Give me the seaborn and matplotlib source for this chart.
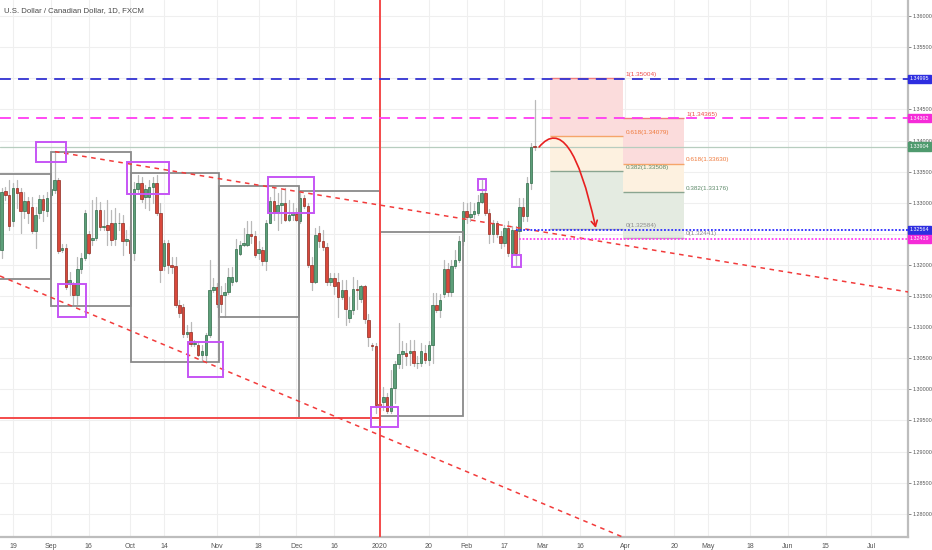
import numpy as np
import pandas as pd
import matplotlib
matplotlib.use("Agg")
import matplotlib.pyplot as plt
import matplotlib.transforms as mtransforms
from matplotlib.patches import Rectangle, FancyArrowPatch
from matplotlib.path import Path
import seaborn as sns

# ---------------- data ----------------
origin_date = "2019-08-19"      # bar position 0
first_bar = "2019-08-14"

opens = [1.3224, 1.3319, 1.3313, 1.3270, 1.3323, 1.3318, 1.3286, 1.3303, 1.3293, 1.3254,
         1.3283, 1.3306, 1.3287, 1.3313, 1.3321, 1.3336, 1.3224, 1.3228, 1.3169, 1.3169,
         1.3152, 1.3193, 1.3211, 1.3250, 1.3240, 1.3243, 1.3288, 1.3261, 1.3264, 1.3267,
         1.3241, 1.3267, 1.3268, 1.3238, 1.3240, 1.3220, 1.3322, 1.3332, 1.3310, 1.3309,
         1.3325, 1.3331, 1.3284, 1.3198, 1.3235, 1.3200, 1.3198, 1.3136, 1.3133, 1.3089,
         1.3093, 1.3073, 1.3071, 1.3055, 1.3055, 1.3087, 1.3160, 1.3164, 1.3152, 1.3151,
         1.3157, 1.3173, 1.3175, 1.3218, 1.3232, 1.3232, 1.3250, 1.3247, 1.3219, 1.3224,
         1.3207, 1.3268, 1.3303, 1.3284, 1.3296, 1.3299, 1.3272, 1.3280, 1.3282, 1.3270,
         1.3307, 1.3295, 1.3200, 1.3173, 1.3251, 1.3239, 1.3229, 1.3173, 1.3179, 1.3172,
         1.3149, 1.3160, 1.3114, 1.3127, 1.3162, 1.3146, 1.3166, 1.3112, 1.3071, 1.3069,
         1.2977, 1.2980, 1.2987, 1.2966, 1.3003, 1.3041, 1.3057, 1.3058, 1.3058, 1.3062,
         1.3042, 1.3042, 1.3059, 1.3048, 1.3071, 1.3136, 1.3128, 1.3153, 1.3194, 1.3156,
         1.3199, 1.3208, 1.3238, 1.3286, 1.3277, 1.3282, 1.3284, 1.3302, 1.3316, 1.3284,
         1.3250, 1.3267, 1.3246, 1.3235, 1.3259, 1.3220, 1.3256, 1.3254, 1.3293, 1.3278,
         1.3331, 1.3392]
highs = [1.3323, 1.3325, 1.3337, 1.3331, 1.3337, 1.3323, 1.3318, 1.3310, 1.3310, 1.3294,
         1.3313, 1.3313, 1.3318, 1.3337, 1.3382, 1.3340, 1.3234, 1.3234, 1.3188, 1.3173,
         1.3213, 1.3219, 1.3288, 1.3255, 1.3304, 1.3310, 1.3302, 1.3288, 1.3304, 1.3288,
         1.3291, 1.3283, 1.3280, 1.3256, 1.3262, 1.3334, 1.3345, 1.3342, 1.3329, 1.3337,
         1.3342, 1.3345, 1.3299, 1.3240, 1.3240, 1.3213, 1.3213, 1.3144, 1.3138, 1.3104,
         1.3109, 1.3080, 1.3077, 1.3071, 1.3090, 1.3208, 1.3179, 1.3171, 1.3166, 1.3171,
         1.3195, 1.3196, 1.3241, 1.3238, 1.3259, 1.3270, 1.3270, 1.3254, 1.3238, 1.3229,
         1.3272, 1.3310, 1.3326, 1.3315, 1.3321, 1.3323, 1.3304, 1.3299, 1.3291, 1.3315,
         1.3313, 1.3299, 1.3213, 1.3259, 1.3262, 1.3256, 1.3235, 1.3187, 1.3187, 1.3187,
         1.3176, 1.3176, 1.3149, 1.3181, 1.3176, 1.3168, 1.3168, 1.3122, 1.3074, 1.3074,
         1.2984, 1.3004, 1.2994, 1.3031, 1.3045, 1.3106, 1.3077, 1.3074, 1.3079, 1.3079,
         1.3054, 1.3074, 1.3071, 1.3077, 1.3155, 1.3155, 1.3153, 1.3208, 1.3203, 1.3208,
         1.3224, 1.3246, 1.3302, 1.3299, 1.3302, 1.3299, 1.3313, 1.3337, 1.3323, 1.3290,
         1.3272, 1.3270, 1.3254, 1.3265, 1.3270, 1.3262, 1.3262, 1.3307, 1.3307, 1.3342,
         1.3396, 1.3465]
lows = [1.3211, 1.3305, 1.3256, 1.3262, 1.3292, 1.3251, 1.3275, 1.3268, 1.3251, 1.3227,
        1.3275, 1.3270, 1.3278, 1.3310, 1.3315, 1.3220, 1.3221, 1.3162, 1.3152, 1.3136,
        1.3138, 1.3187, 1.3208, 1.3218, 1.3232, 1.3240, 1.3256, 1.3256, 1.3232, 1.3232,
        1.3232, 1.3256, 1.3216, 1.3232, 1.3216, 1.3208, 1.3315, 1.3302, 1.3291, 1.3288,
        1.3299, 1.3280, 1.3172, 1.3192, 1.3187, 1.3187, 1.3133, 1.3117, 1.3085, 1.3085,
        1.3069, 1.3069, 1.3053, 1.3047, 1.3045, 1.3085, 1.3157, 1.3133, 1.3125, 1.3117,
        1.3154, 1.3168, 1.3172, 1.3216, 1.3230, 1.3230, 1.3235, 1.3213, 1.3210, 1.3200,
        1.3192, 1.3267, 1.3272, 1.3256, 1.3267, 1.3270, 1.3270, 1.3272, 1.3270, 1.3267,
        1.3291, 1.3197, 1.3160, 1.3171, 1.3229, 1.3224, 1.3168, 1.3168, 1.3154, 1.3117,
        1.3146, 1.3104, 1.3109, 1.3122, 1.3130, 1.3140, 1.3106, 1.3069, 1.3063, 1.2962,
        1.2966, 1.2967, 1.2962, 1.2962, 1.2978, 1.3034, 1.3034, 1.3039, 1.3040, 1.3037,
        1.3034, 1.3037, 1.3043, 1.3040, 1.3042, 1.3125, 1.3117, 1.3149, 1.3150, 1.3150,
        1.3195, 1.3204, 1.3232, 1.3267, 1.3270, 1.3275, 1.3281, 1.3299, 1.3280, 1.3236,
        1.3237, 1.3245, 1.3227, 1.3230, 1.3215, 1.3213, 1.3200, 1.3216, 1.3270, 1.3270,
        1.3322, 1.3385]
closes = [1.3318, 1.3313, 1.3263, 1.3323, 1.3316, 1.3286, 1.3303, 1.3283, 1.3254, 1.3280,
          1.3306, 1.3288, 1.3307, 1.3322, 1.3337, 1.3223, 1.3228, 1.3165, 1.3176, 1.3152,
          1.3193, 1.3211, 1.3284, 1.3220, 1.3244, 1.3288, 1.3261, 1.3263, 1.3256, 1.3240,
          1.3267, 1.3268, 1.3239, 1.3241, 1.3220, 1.3322, 1.3332, 1.3306, 1.3322, 1.3325,
          1.3331, 1.3284, 1.3192, 1.3235, 1.3200, 1.3197, 1.3136, 1.3123, 1.3089, 1.3093,
          1.3073, 1.3074, 1.3055, 1.3061, 1.3087, 1.3160, 1.3164, 1.3137, 1.3137, 1.3157,
          1.3180, 1.3180, 1.3225, 1.3232, 1.3236, 1.3250, 1.3247, 1.3216, 1.3226, 1.3207,
          1.3268, 1.3303, 1.3284, 1.3296, 1.3299, 1.3272, 1.3280, 1.3283, 1.3273, 1.3307,
          1.3295, 1.3200, 1.3173, 1.3248, 1.3239, 1.3229, 1.3173, 1.3179, 1.3166, 1.3149,
          1.3160, 1.3130, 1.3127, 1.3161, 1.3160, 1.3166, 1.3113, 1.3085, 1.3069, 1.2975,
          1.2975, 1.2988, 1.2966, 1.3003, 1.3041, 1.3057, 1.3061, 1.3053, 1.3062, 1.3042,
          1.3043, 1.3061, 1.3048, 1.3071, 1.3136, 1.3128, 1.3144, 1.3194, 1.3156, 1.3199,
          1.3208, 1.3238, 1.3286, 1.3277, 1.3282, 1.3286, 1.3302, 1.3316, 1.3284, 1.3250,
          1.3267, 1.3250, 1.3235, 1.3259, 1.3220, 1.3257, 1.3219, 1.3293, 1.3278, 1.3331,
          1.3390, 1.3390]

tick_dates = ["2019-08-19", "2019-09-02", "2019-09-16", "2019-10-01", "2019-10-14",
              "2019-11-01", "2019-11-18", "2019-12-02", "2019-12-16", "2020-01-01",
              "2020-01-20", "2020-02-03", "2020-02-17", "2020-03-02", "2020-03-16",
              "2020-04-01", "2020-04-20", "2020-05-01", "2020-05-18", "2020-06-01",
              "2020-06-15", "2020-07-01"]
tick_labels = ["19", "Sep", "16", "Oct", "14", "Nov", "18", "Dec", "16", "2020",
               "20", "Feb", "17", "Mar", "16", "Apr", "20", "May", "18", "Jun", "15", "Jul"]
price_ticks = [1.280, 1.285, 1.290, 1.295, 1.300, 1.305, 1.310, 1.315, 1.320,
               1.325, 1.330, 1.335, 1.340, 1.345, 1.350, 1.355, 1.360]
hidden_price_labels = [1.325, 1.350]   # covered by the price tags in the original

# drawing objects (bar position, price)
gray_boxes = [(-6, 10.05, 1.31775, 1.33463), (10.05, 31.1, 1.31346, 1.33822),
              (31.2, 54.5, 1.30436, 1.33474), (54.5, 75.7, 1.31159, 1.33270),
              (75.7, 97.0, 1.29535, 1.33195), (97.0, 119.1, 1.29577, 1.32535)]
purple_boxes = [(6.1, 14.0, 1.33656, 1.33978), (12.0, 19.2, 1.31159, 1.31695),
                (30.2, 41.3, 1.33141, 1.33651), (46.4, 55.5, 1.30204, 1.30757),
                (67.5, 79.7, 1.32831, 1.33420), (94.8, 101.8, 1.29391, 1.29712),
                (122.9, 125.1, 1.33206, 1.33378), (132.1, 134.3, 1.31973, 1.32161)]
upper_trend = [(11.1, 1.33822), (139.9, 1.32535)]
lower_trend = [(-3.44, 1.31823), (161.3, 1.27627)]
support_level = 1.2954
level_blue = 1.34995
level_magenta = 1.34362
last_price = 1.33904
dot_blue = (133, 1.32564)
dot_magenta = (134, 1.32419)
fib_ranges = [(142.2, 161.5), (161.5, 177.5)]
fib_levels = [[1.35004, 1.34079, 1.33508, 1.32584], [1.34365, 1.33630, 1.33176, 1.32441]]
fib_names = ["1", "0.618", "0.382", "0"]
arrow_pts = [(139.2, 1.33897), (147.4, 1.34492), (154.2, 1.32595)]

# ---------------- styling ----------------
sns.set_style("white")
plt.rcParams["font.family"] = ["Liberation Sans", "DejaVu Sans"]

fig = plt.figure(figsize=(9.32, 5.5), dpi=100)
ax = fig.add_axes([0, 13 / 550, 908 / 932, 537 / 550])

XMIN, XMAX = -3.44, 236.8
YMIN, YMAX = 1.27627, 1.36260

origin = np.datetime64(origin_date)
bar_dates = pd.bdate_range(first_bar, periods=len(opens))
bar_x = np.busday_count(origin, bar_dates.values.astype("datetime64[D]"))
tick_x = np.busday_count(origin, np.array(tick_dates, dtype="datetime64[D]"))
year_x = tick_x[tick_labels.index("2020")]

o = np.array(opens); h = np.array(highs); l = np.array(lows); c = np.array(closes)

# wicks via seaborn
wick_df = pd.DataFrame({
    "x": np.repeat(bar_x, 2),
    "y": np.column_stack([l, h]).ravel(),
    "id": np.repeat(np.arange(len(bar_x)), 2),
})
sns.lineplot(data=wick_df, x="x", y="y", units="id", estimator=None, sort=False,
             color="#b9b9b9", lw=0.9, ax=ax, legend=False, zorder=3)

up = c >= o
body_bottom = np.minimum(o, c)
body_h = np.maximum(np.abs(c - o), 0.00004)
ax.bar(bar_x[up], body_h[up], bottom=body_bottom[up], width=0.66,
       color="#5c9f79", edgecolor="#2f6b48", lw=0.5, zorder=4)
ax.bar(bar_x[~up], body_h[~up], bottom=body_bottom[~up], width=0.66,
       color="#d9483b", edgecolor="#8f2a20", lw=0.5, zorder=4)

# gray range boxes
for x0, x1, y0, y1 in gray_boxes:
    ax.add_patch(Rectangle((x0, y0), x1 - x0, y1 - y0, fill=False,
                           ec="#8a8a8a", lw=1.3, zorder=5))

# red structure lines
ax.axvline(year_x, color="#f44a4a", lw=1.4, zorder=6)
ax.hlines(support_level, XMIN - 5, year_x, colors="#f44a4a", lw=1.4, zorder=6)

# trend lines
(ux0, uy0), (ux1, uy1) = upper_trend
slope = (uy1 - uy0) / (ux1 - ux0)
ax.plot([ux0, XMAX + 5], [uy0, uy0 + slope * (XMAX + 5 - ux0)], color="#f23b3b",
        lw=1.1, ls=(0, (3, 3)), zorder=6)
ax.axline(lower_trend[0], lower_trend[1], color="#f23b3b", lw=1.1,
          ls=(0, (3, 3)), zorder=6)

# horizontal levels
ax.axhline(last_price, color="#b7cdbf", lw=0.9, zorder=2)
ax.axhline(level_blue, color="#3232d2", lw=1.3, ls=(0, (6, 4)), zorder=6)
ax.axhline(level_magenta, color="#ff3cf2", lw=1.3, ls=(0, (6, 4)), zorder=6)
ax.hlines(dot_blue[1], dot_blue[0], XMAX + 5, colors="#2b2bff", lw=1.3,
          linestyles=(0, (1, 1)), zorder=6)
ax.hlines(dot_magenta[1], dot_magenta[0], XMAX + 5, colors="#ff3cf2", lw=1.3,
          linestyles=(0, (1, 1)), zorder=6)

# purple highlight boxes
for x0, x1, y0, y1 in purple_boxes:
    ax.add_patch(Rectangle((x0, y0), x1 - x0, y1 - y0, fill=False,
                           ec="#c655f5", lw=1.4, zorder=7))

# fib retracements
zone_colors = ["#fbdcdc", "#fdf1e0", "#e4ebe1"]
line_colors = ["#f07c7c", "#f5a56a", "#8aa590", "#b5b5b5"]
text_colors = ["#ee4b4b", "#ef7a3c", "#5e8a6a", "#8c8c8c"]
for (fx0, fx1), lv in zip(fib_ranges, fib_levels):
    for k in range(3):
        ax.add_patch(Rectangle((fx0, lv[k + 1]), fx1 - fx0, lv[k] - lv[k + 1],
                               fc=zone_colors[k], ec="none", zorder=1))
    for k in range(4):
        ax.hlines(lv[k], fx0, fx1, colors=line_colors[k], lw=1.0, zorder=2)
        ax.text(fx1 + 0.6, lv[k] + 0.00018, f"{fib_names[k]}({lv[k]:.5f})",
                fontsize=4.6, color=text_colors[k], ha="left", va="bottom", zorder=8)

# curved arrow
arrow = FancyArrowPatch(path=Path(arrow_pts, [Path.MOVETO, Path.CURVE3, Path.CURVE3]),
                        arrowstyle="->,head_length=4,head_width=2.2",
                        color="#e82020", lw=1.2, zorder=8)
ax.add_patch(arrow)

# axes
ax.set_xlim(XMIN, XMAX)
ax.set_ylim(YMIN, YMAX)
ax.set_xticks(tick_x)
ax.set_xticklabels(tick_labels)
ax.set_yticks(price_ticks)
ax.set_yticklabels(["" if any(abs(p - q) < 1e-9 for q in hidden_price_labels)
                    else f"{p:.5f}" for p in price_ticks])
ax.set_xlabel("")
ax.set_ylabel("")
ax.grid(True, color="#efefef", lw=0.8)
ax.set_axisbelow(True)
for s in ["left", "top"]:
    ax.spines[s].set_visible(False)
for s in ["right", "bottom"]:
    ax.spines[s].set_color("#bdbdbd")
    ax.spines[s].set_linewidth(1.6)
ax.yaxis.tick_right()
ax.tick_params(axis="y", length=2, width=0.6, color="#777777", labelsize=3.9,
               labelcolor="#555555", pad=1.0)
ax.tick_params(axis="x", length=2, width=0.6, color="#777777", labelsize=5.0,
               labelcolor="#555555", pad=2)

# right-side price tags
blend = mtransforms.blended_transform_factory(ax.transAxes, ax.transData)
tags = [(level_blue, "#2e2ee0"), (level_magenta, "#f52bd8"), (last_price, "#4f9a6e"),
        (dot_blue[1], "#2e2ee0"), (dot_magenta[1], "#f52bd8")]
for price, col in tags:
    ax.text(1.0022, price, f"{price:.5f}", transform=blend, fontsize=3.9, color="white",
            ha="left", va="center", clip_on=False, zorder=10,
            bbox=dict(boxstyle="square,pad=0.3", fc=col, ec=col))

fig.text(0.004, 0.988, "U.S. Dollar / Canadian Dollar, 1D, FXCM", fontsize=5.6,
         color="#4a4a4a", ha="left", va="top")

fig.savefig("out.png", dpi=100)
